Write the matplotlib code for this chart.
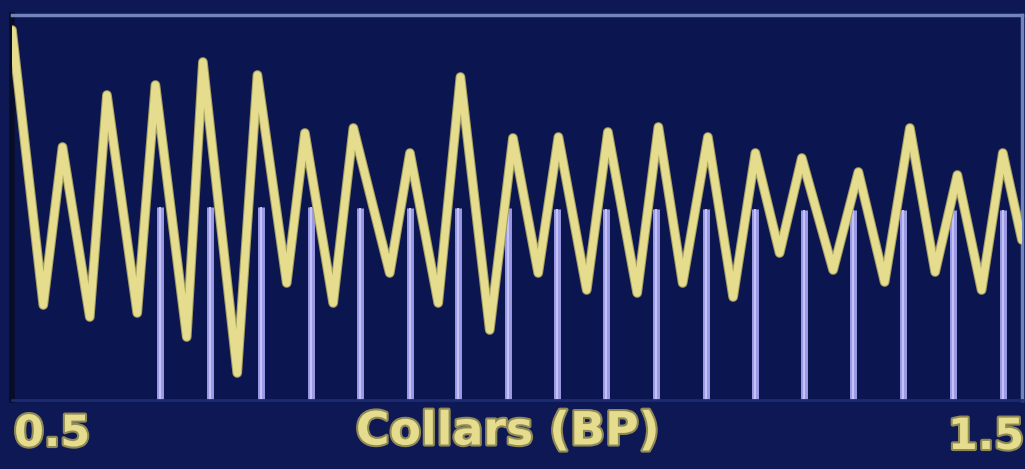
import matplotlib
matplotlib.use("Agg")
import matplotlib.pyplot as plt
import matplotlib.patheffects as pe

# yellow trace: turning points (x in BP, y in screen units)
trace_x = [0.500, 0.531, 0.550, 0.577, 0.594, 0.624, 0.642, 0.673, 0.689, 0.723,
           0.743, 0.772, 0.790, 0.818, 0.838, 0.874, 0.894, 0.922, 0.944, 0.973,
           0.996, 1.021, 1.041, 1.069, 1.090, 1.119, 1.140, 1.164, 1.189, 1.214,
           1.236, 1.260, 1.282, 1.313, 1.338, 1.364, 1.389, 1.414, 1.436, 1.460,
           1.481, 1.500]
trace_y = [3.70, 0.95, 2.53, 0.83, 3.05, 0.87, 3.15, 0.63, 3.38, 0.27,
           3.25, 1.17, 2.67, 0.97, 2.72, 1.27, 2.47, 0.97, 3.23, 0.70,
           2.62, 1.27, 2.63, 1.10, 2.68, 1.07, 2.73, 1.17, 2.63, 1.03,
           2.47, 1.47, 2.42, 1.30, 2.28, 1.18, 2.72, 1.28, 2.25, 1.10,
           2.47, 1.60]

# blue markers (collar positions)
collar_x = [0.647, 0.696, 0.747, 0.796, 0.845, 0.894, 0.942, 0.991, 1.040,
            1.088, 1.138, 1.187, 1.236, 1.284, 1.333, 1.382, 1.432, 1.481]
collar_h = [1.93, 1.93, 1.93, 1.93, 1.92, 1.92, 1.92, 1.92, 1.91,
            1.91, 1.91, 1.91, 1.91, 1.90, 1.90, 1.90, 1.90, 1.90]

x_labels = ["0.5", "1.5"]
x_title = "Collars (BP)"

bg = "#0d1854"
yellow = "#e6dc8e"
lavender = "#9a9ae6"

fig = plt.figure(figsize=(10.25, 4.69), dpi=100)
fig.patch.set_facecolor(bg)

ax = fig.add_axes([12 / 1025, 69 / 469, 1010 / 1025, 385 / 469])
ax.set_facecolor("#0b1650")
ax.set_xlim(0.5, 1.5)
ax.set_ylim(0, 3.85)
ax.set_xticks([])
ax.set_yticks([])

for s in ["top", "right"]:
    ax.spines[s].set_color("#7384bd")
    ax.spines[s].set_linewidth(2.5)
ax.spines["left"].set_color("#070c28")
ax.spines["left"].set_linewidth(4)
ax.spines["bottom"].set_color("#1d2b70")
ax.spines["bottom"].set_linewidth(2)

# collar bars
ax.vlines(collar_x, 0, collar_h, color=lavender, linewidth=5, zorder=2)
ax.vlines(collar_x, 0, collar_h, color="#c4c2f6", linewidth=1.5, zorder=2)

# trace
ax.plot(trace_x, trace_y, color=yellow, linewidth=5.5, solid_joinstyle="round",
        solid_capstyle="round", zorder=3,
        path_effects=[pe.Stroke(linewidth=7, foreground="#a39d62"), pe.Normal()])

txt_fx = [pe.withStroke(linewidth=3, foreground="#8f8a55")]
fig.text(14 / 1025, 1 - 434 / 469, x_labels[0], color=yellow, fontsize=31,
         fontweight="bold", ha="left", va="center", path_effects=txt_fx)
fig.text(1024 / 1025, 1 - 437 / 469, x_labels[1], color=yellow, fontsize=31,
         fontweight="bold", ha="right", va="center", path_effects=txt_fx)
fig.text(508 / 1025, 1 - 432 / 469, x_title, color=yellow, fontsize=33,
         fontweight="bold", ha="center", va="center", path_effects=txt_fx)

fig.savefig("out.png", dpi=100, facecolor=fig.get_facecolor())
